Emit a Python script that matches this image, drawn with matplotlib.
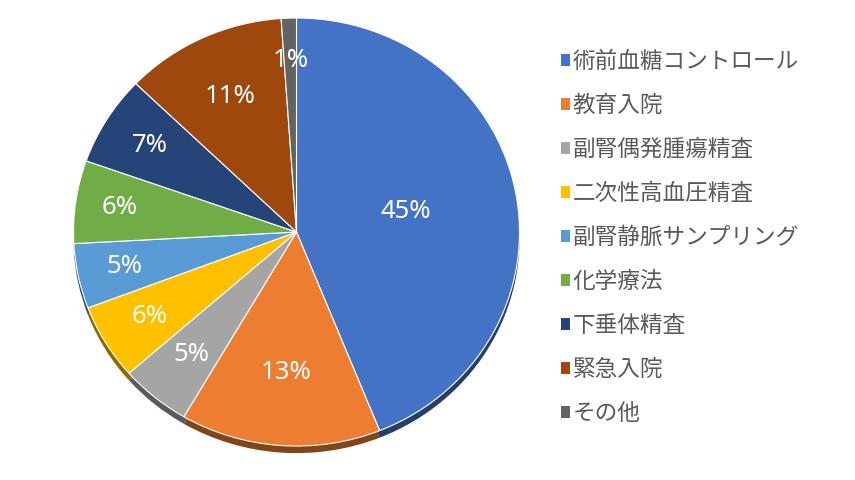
import matplotlib.pyplot as plt
import matplotlib.colors as mcolors
import numpy as np

plt.rcParams['font.family'] = ['Noto Sans CJK JP', 'DejaVu Sans']

# shares, with the printed labels
categories = ['術前血糖コントロール', '教育入院', '副腎偶発腫瘍精査', '二次性高血圧精査',
              '副腎静脈サンプリング', '化学療法', '下垂体精査', '緊急入院', 'その他']
shares = [43.9, 14.5, 5.1, 5.7, 4.9, 6.25, 6.8, 11.7, 1.1]
pct_labels = ['45%', '13%', '5%', '6%', '5%', '6%', '7%', '11%', '1%']
colors = ['#4472C4', '#ED7D31', '#A5A5A5', '#FFC000', '#5B9BD5',
          '#70AD47', '#264478', '#9E480E', '#636363']

fig = plt.figure(figsize=(8.55, 4.8), dpi=100)
# slightly squashed pie (tilted look): 223 px wide radius, 214 px tall
ax = fig.add_axes([73.5 / 855, 25.4 / 480, 446 / 855, 436.6 / 480])

# darker copy underneath for the 3D-like rim
dark = [tuple(c * 0.55 for c in mcolors.to_rgb(col)) for col in colors]
ax.pie(shares, colors=dark, startangle=90, counterclock=False, radius=1.0,
       center=(0, -0.033), wedgeprops=dict(edgecolor='none'))

wedges, _ = ax.pie(shares, colors=colors, startangle=90, counterclock=False, radius=1.0,
                   wedgeprops=dict(edgecolor='white', linewidth=0.8))

# radial placement of the percentage labels
label_r = [0.5, 0.66, 0.74, 0.77, 0.79, 0.8, 0.77, 0.7, 0.8]
for w, txt, r in zip(wedges, pct_labels, label_r):
    ang = np.deg2rad((w.theta1 + w.theta2) / 2)
    ax.text(r * np.cos(ang), r * np.sin(ang), txt, color='white', fontsize=18.5,
            ha='center', va='center', family=['Noto Sans', 'DejaVu Sans'])

ax.set_xlim(-1, 1)
ax.set_ylim(-1.04, 1)
ax.set_aspect('auto')
ax.axis('off')

leg = fig.legend(wedges, categories, loc='upper left', bbox_to_anchor=(0.645, 0.915),
                 frameon=False, fontsize=16.3, handlelength=0.42, handleheight=0.42,
                 handletextpad=0.12, labelspacing=0.93, borderaxespad=0)
for t in leg.get_texts():
    t.set_color('#595959')
for h in leg.legend_handles:
    h.set_edgecolor('none')

fig.savefig('out.png', dpi=100)
